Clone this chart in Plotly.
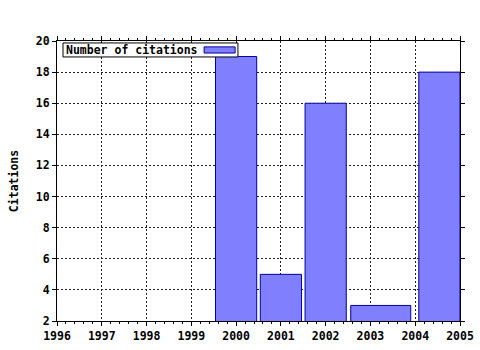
import plotly.graph_objects as go

years = [2000, 2001, 2002, 2003, 2004]
citations = [19, 5, 16, 3, 18]
x_ticks = list(range(1996, 2006))
y_ticks = list(range(2, 21, 2))

# bar geometry (styling)
bar_offsets = [-0.46, -0.46, -0.46, -0.44, 0.08]
bar_widths = [0.92, 0.92, 0.92, 1.34, 0.92]

FONT = "DejaVu Sans Mono"
fnt = dict(family=FONT, size=11.5, color="black", weight="bold")

fig = go.Figure()
fig.add_trace(go.Bar(
    x=years, y=citations, offset=bar_offsets, width=bar_widths,
    marker=dict(color="#8080ff", line=dict(color="#00009c", width=1)),
    name="Number of citations", showlegend=False,
))

axis_common = dict(
    showline=True, linecolor="black", linewidth=1, mirror="allticks",
    showgrid=True, gridcolor="#222222", griddash="2px,2px", gridwidth=1,
    ticks="outside", tickcolor="black", ticklen=4,
    tickfont=fnt, zeroline=False, automargin=False,
)

fig.update_layout(
    width=480, height=350,
    margin=dict(l=57, r=20, t=41, b=29, autoexpand=False),
    paper_bgcolor="white", plot_bgcolor="white",
    showlegend=False,
    xaxis=dict(range=[1996, 2005], tickvals=x_ticks, ticktext=[str(v) for v in x_ticks],
               minor=dict(dtick=0.2, tick0=1996, ticklen=2, ticks="outside", tickcolor="black", showgrid=False),
               **axis_common),
    yaxis=dict(range=[2, 20], tickvals=y_ticks, ticktext=[str(v) for v in y_ticks],
               title=dict(text="Citations", font=fnt, standoff=14),
               **axis_common),
)

# manual legend (text then swatch, as in the reference)
fig.add_shape(type="rect", xref="paper", yref="paper", x0=0.0149, x1=0.449, y0=0.943, y1=0.993,
              line=dict(color="black", width=1), fillcolor="white", layer="above")
fig.add_annotation(xref="paper", yref="paper", x=0.0174, y=0.968, xanchor="left", yanchor="middle",
                   text="Number of citations", showarrow=False, font=fnt)
fig.add_shape(type="rect", xref="paper", yref="paper", x0=0.365, x1=0.442, y0=0.957, y1=0.979,
              line=dict(color="#00009c", width=1), fillcolor="#8080ff", layer="above")

fig.write_html("out.html")
